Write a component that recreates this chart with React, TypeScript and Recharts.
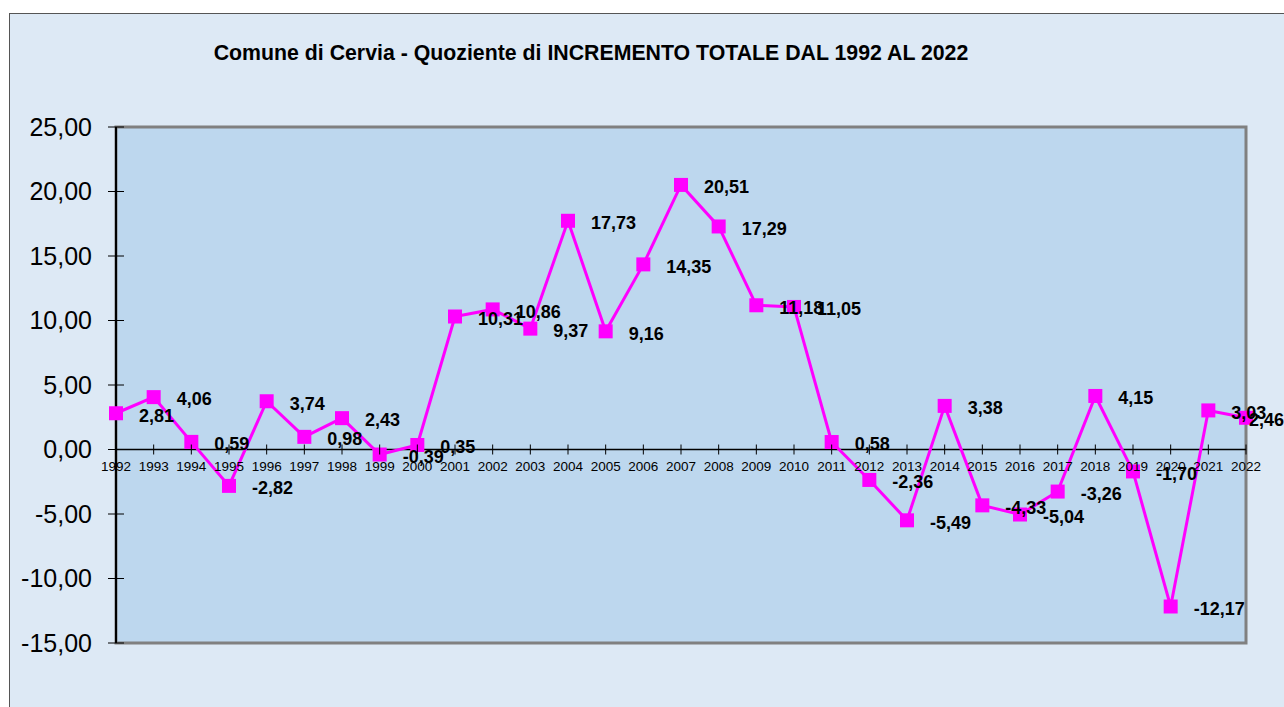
import React from 'react';
import { LineChart, Line, XAxis, YAxis, CartesianGrid, ReferenceArea, ReferenceLine, LabelList } from 'recharts';

const years = [
  '1992', '1993', '1994', '1995', '1996', '1997', '1998', '1999', '2000', '2001', '2002',
  '2003', '2004', '2005', '2006', '2007', '2008', '2009', '2010', '2011', '2012',
  '2013', '2014', '2015', '2016', '2017', '2018', '2019', '2020', '2021', '2022',
];

const quoziente = [
  2.81, 4.06, 0.59, -2.82, 3.74, 0.98, 2.43, -0.39, 0.35, 10.31, 10.86,
  9.37, 17.73, 9.16, 14.35, 20.51, 17.29, 11.18, 11.05, 0.58, -2.36,
  -5.49, 3.38, -4.33, -5.04, -3.26, 4.15, -1.7, -12.17, 3.03, 2.46,
];

const yTicks = [-15, -10, -5, 0, 5, 10, 15, 20, 25];

const data = years.map((year, i) => ({ year, value: quoziente[i] }));

const FONT = '"Liberation Sans", Arial, sans-serif';
const W = 1284;
const H = 707;
const X_AXIS_H = 30;
const MARGIN = { top: 127, right: 38, bottom: 64 - X_AXIS_H, left: 0 };
const Y_AXIS_W = 116;
const Y_MIN = -15;
const Y_MAX = 25;
const PLOT_H = H - MARGIN.top - MARGIN.bottom - X_AXIS_H;
// y pixel of the zero line, where the year labels sit
const ZERO_Y = MARGIN.top + (PLOT_H * (Y_MAX - 0)) / (Y_MAX - Y_MIN);

const fmt = (v: number) => v.toFixed(2).replace('.', ',');

const YTick = (props: any) => {
  const { x, y, payload } = props;
  const axisX = Y_AXIS_W;
  return (
    <g>
      <line x1={axisX - 8} x2={axisX + 8} y1={y} y2={y} stroke="#000" strokeWidth={1} />
      <text x={x} y={y} dy="0.35em" textAnchor="end" fontSize={25} fontFamily={FONT} fill="#000">
        {fmt(payload.value)}
      </text>
    </g>
  );
};

const XTick = (props: any) => {
  const { x, payload } = props;
  return (
    <g>
      <line x1={x} x2={x} y1={ZERO_Y - 5} y2={ZERO_Y + 5} stroke="#000" strokeWidth={1} />
      <text x={x} y={ZERO_Y + 21} textAnchor="middle" fontSize={13.5} fontFamily={FONT} fill="#000">
        {payload.value}
      </text>
    </g>
  );
};

const SquareDot = (props: any) => {
  const { cx, cy, index } = props;
  if (cx == null || cy == null) return null;
  return <rect key={`dot-${index}`} x={cx - 7} y={cy - 7} width={14} height={14} fill="#ff00ff" />;
};

const ValueLabel = (props: any) => {
  const { x, y, value, index } = props;
  // Excel keeps the label inside the chart area, so the last one is pushed left
  const nearEdge = x + 23 + 40 > W;
  return (
    <text
      key={`lbl-${index}`}
      x={nearEdge ? W : x + 23}
      y={y + 2}
      dy="0.35em"
      textAnchor={nearEdge ? 'end' : 'start'}
      fontSize={18}
      fontWeight="bold"
      fontFamily={FONT}
      fill="#000"
    >
      {fmt(value)}
    </text>
  );
};

export default function App() {
  return (
    <div style={{ position: 'absolute', left: 0, top: 0, width: W, height: H, background: '#fff', overflow: 'hidden' }}>
      <div
        style={{
          position: 'absolute',
          left: 9,
          top: 13,
          width: W,
          height: H,
          background: '#dde9f5',
          borderLeft: '1px solid #555',
          borderTop: '1px solid #555',
        }}
      />
      <div
        style={{
          position: 'absolute',
          left: 0,
          width: 1182,
          top: 41,
          textAlign: 'center',
          fontFamily: FONT,
          fontWeight: 'bold',
          fontSize: 21.3,
          color: '#000',
        }}
      >
        Comune di Cervia - Quoziente di INCREMENTO TOTALE DAL 1992 AL 2022
      </div>
      <div style={{ position: 'absolute', left: 0, top: 0 }}>
        <LineChart width={W} height={H} data={data} margin={MARGIN}>
          <CartesianGrid horizontal={false} vertical={false} fill="#bdd7ee" />
          <ReferenceArea
            x1="1992"
            x2="2022"
            y1={Y_MIN}
            y2={Y_MAX}
            fill="none"
            stroke="#808080"
            strokeWidth={3}
          />
          <ReferenceLine y={0} stroke="#000" strokeWidth={1.5} />
          <XAxis
            dataKey="year"
            height={X_AXIS_H}
            axisLine={false}
            tickLine={false}
            tick={<XTick />}
            interval={0}
          />
          <YAxis
            width={Y_AXIS_W}
            domain={[Y_MIN, Y_MAX]}
            ticks={yTicks}
            interval={0}
            axisLine={{ stroke: '#000', strokeWidth: 2 }}
            tickLine={false}
            tickSize={8}
            tickMargin={16}
            tick={<YTick />}
          />
          <Line
            type="linear"
            dataKey="value"
            stroke="#ff00ff"
            strokeWidth={3}
            dot={<SquareDot />}
            activeDot={false}
            isAnimationActive={false}
          >
            <LabelList dataKey="value" content={<ValueLabel />} />
          </Line>
        </LineChart>
      </div>
    </div>
  );
}
